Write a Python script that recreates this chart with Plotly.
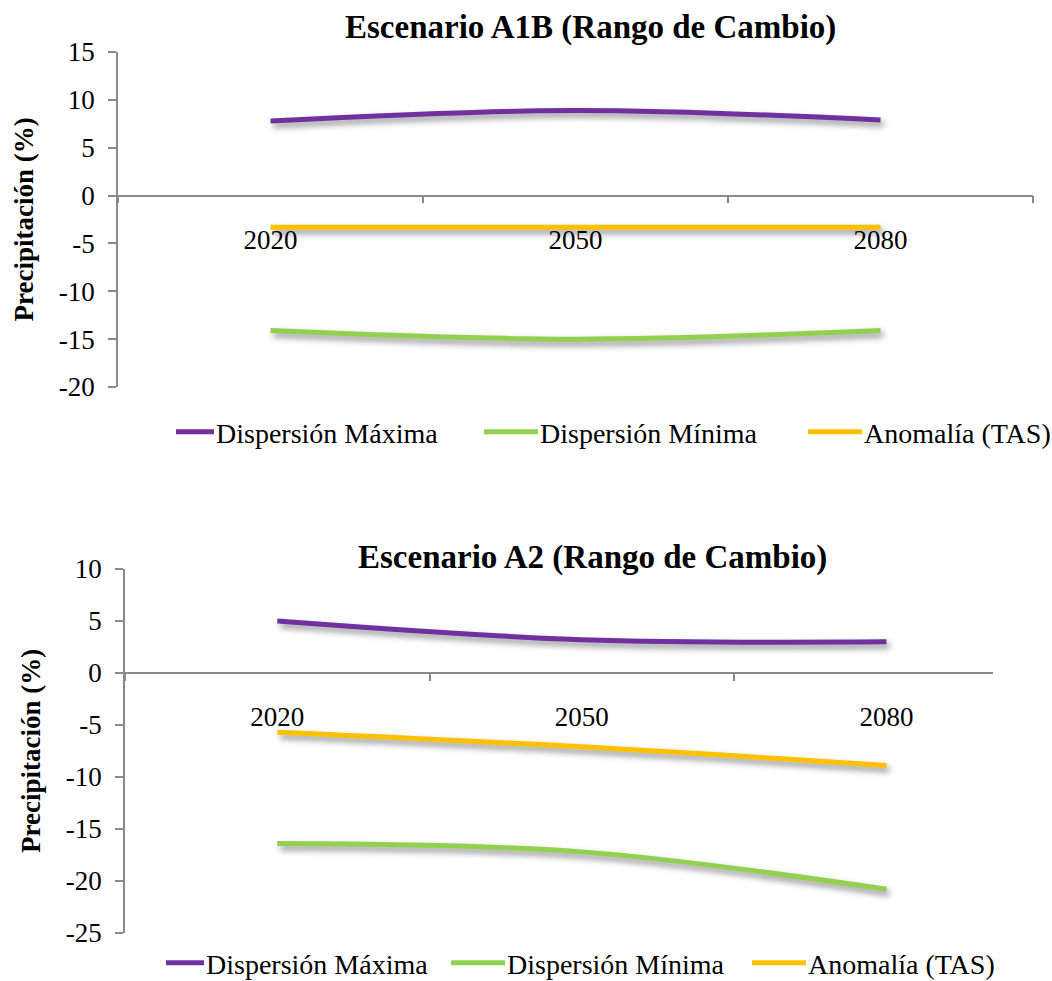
import plotly.graph_objects as go

# ---- data ----
years = ["2020", "2050", "2080"]
series_names = ["Dispersión Máxima", "Dispersión Mínima", "Anomalía (TAS)"]
a1b_max = [7.8, 8.9, 7.9]
a1b_min = [-14.1, -15.0, -14.1]
a1b_anom = [-3.3, -3.3, -3.3]
a2_max = [5.0, 3.2, 3.0]
a2_min = [-16.4, -17.2, -20.8]
a2_anom = [-5.7, -7.1, -8.9]
a1b_yticks = [15, 10, 5, 0, -5, -10, -15, -20]
a2_yticks = [10, 5, 0, -5, -10, -15, -20, -25]
titles = ["Escenario A1B (Rango de Cambio)", "Escenario A2 (Rango de Cambio)"]
y_title = "Precipitación (%)"

# ---- style ----
W, H = 1052, 981
FONT = "Liberation Serif"
colors = ["#7030A0", "#92D050", "#FFC000"]
AXC = "#8a8a8a"


def px_x(v):
    return v / W


def px_y(v):
    return 1 - v / H


panels = [
    dict(series=[a1b_max, a1b_min, a1b_anom], yticks=a1b_yticks,
         xr=[-0.5, 2.5], yr=[-20, 15],
         xdom=[px_x(118), px_x(1033)], ydom=[px_y(387), px_y(52)],
         title_y=px_y(28), title_x=px_x(590), ytitle_x=px_x(23),
         leg_x=px_x(176), leg_y=px_y(432), entry=279),
    dict(series=[a2_max, a2_min, a2_anom], yticks=a2_yticks,
         xr=[-0.5, 2.35], yr=[-25, 10],
         xdom=[px_x(125), px_x(993)], ydom=[px_y(933), px_y(569)],
         title_y=px_y(557), title_x=px_x(592), ytitle_x=px_x(31),
         leg_x=px_x(166), leg_y=px_y(963), entry=256),
]

fig = go.Figure()
layout = dict(width=W, height=H, margin=dict(l=0, r=0, t=0, b=0, autoexpand=False),
              paper_bgcolor="white", plot_bgcolor="white",
              font=dict(family=FONT, color="black"), annotations=[])

for i, p in enumerate(panels):
    sfx = "" if i == 0 else str(i + 1)
    leg = "legend" + sfx
    for name, vals, col in zip(series_names, p["series"], colors):
        fig.add_trace(go.Scatter(
            x=years, y=vals, name=name, mode="lines",
            line=dict(color=col, width=5, shape="spline", smoothing=1.0),
            xaxis="x" + sfx, yaxis="y" + sfx, legend=leg,
        ))
    y0, y1 = p["ydom"]
    ymin, ymax = p["yr"]
    zero_pos = y0 + (y1 - y0) * (0 - ymin) / (ymax - ymin)
    layout["xaxis" + sfx] = dict(
        domain=p["xdom"], anchor="free", position=zero_pos, type="category",
        range=p["xr"], tickson="boundaries", ticks="outside", ticklen=7,
        tickcolor=AXC, tickwidth=1.5, showline=True, linecolor=AXC, linewidth=1.5,
        showgrid=False, zeroline=False, tickfont=dict(size=27, family=FONT),
        ticklabelstandoff=20, automargin=False,
    )
    layout["yaxis" + sfx] = dict(
        domain=p["ydom"], anchor="x" + sfx, range=p["yr"],
        tickvals=p["yticks"], ticktext=[str(v) for v in p["yticks"]],
        ticks="outside", ticklen=8, tickcolor=AXC, tickwidth=1.5,
        showline=True, linecolor=AXC, linewidth=1.5, showgrid=False,
        zeroline=False, tickfont=dict(size=27, family=FONT),
        ticklabelstandoff=8, automargin=False,
    )
    layout[leg] = dict(
        orientation="h", x=p["leg_x"], y=p["leg_y"], xanchor="left",
        yanchor="middle", entrywidth=p["entry"], bgcolor="rgba(0,0,0,0)",
        font=dict(size=28, family=FONT), traceorder="normal",
    )
    layout["annotations"].append(dict(
        text="<b>%s</b>" % titles[i], x=p["title_x"], y=p["title_y"],
        xref="paper", yref="paper", xanchor="center", yanchor="middle",
        showarrow=False, font=dict(size=33, family=FONT),
    ))
    layout["annotations"].append(dict(
        text="<b>%s</b>" % y_title, x=p["ytitle_x"], y=0.5,
        xref="paper", yref="y%s domain" % sfx, xanchor="center",
        yanchor="middle", textangle=-90, showarrow=False,
        font=dict(size=27, family=FONT),
    ))

fig.update_layout(**layout)

post_js = (
    "document.body.style.margin='0';"
    "var s=document.createElement('style');"
    "s.innerHTML='.scatterlayer .js-line{filter:drop-shadow(3px 4px 3px rgba(0,0,0,0.45));}';"
    "document.head.appendChild(s);"
    "var gd=document.getElementById('{plot_id}');"
    "function fixLeg(){gd.querySelectorAll('.legendlines path').forEach(function(p){p.setAttribute('d','M-16,0h54');});}"
    "fixLeg(); gd.on('plotly_afterplot', fixLeg); setTimeout(fixLeg, 300);"
)
fig.write_html("out.html", post_script=post_js, config={"displayModeBar": False})
